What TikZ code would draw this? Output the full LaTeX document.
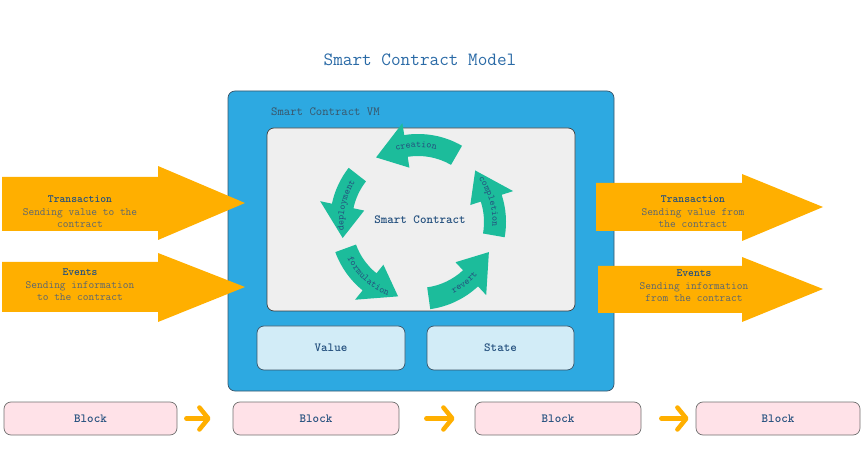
\documentclass[tikz,border=0pt]{standalone}
\usepackage{fontspec}
\usetikzlibrary{arrows.meta,decorations.text}

\definecolor{vmblue}{HTML}{2DA9E1}
\definecolor{vmline}{HTML}{3A5468}
\definecolor{innergray}{HTML}{EFEFEF}
\definecolor{valuefill}{HTML}{D2ECF7}
\definecolor{blockfill}{HTML}{FFE2E8}
\definecolor{blockline}{HTML}{707070}
\definecolor{arroworange}{HTML}{FFAF00}
\definecolor{cycteal}{HTML}{1CBC9B}
\definecolor{titleblue}{HTML}{2A6AA6}
\definecolor{labelblue}{HTML}{24507E}
\definecolor{subgray}{HTML}{5B6670}

\newcommand\cyclabelfont{\fontsize{9.7}{11}\selectfont\ttfamily}

% one curved arrow of the cycle: start angle, tip angle
\newcommand\cyclearrow[2]{%
  \pgfmathsetmacro\headbase{#2-24}
  \fill [cycteal] ([shift={(#1:88)}]cyc) arc [start angle=#1, end angle=\headbase, radius=88]
    -- ([shift={(\headbase:100)}]cyc) -- ([shift={(#2:77)}]cyc)
    -- ([shift={(\headbase:55)}]cyc) -- ([shift={(\headbase:66)}]cyc)
    arc [start angle=\headbase, end angle=#1, radius=66] -- cycle;
}
% text bent along an arc: from angle, to angle, radius, text
\newcommand\cyclelabel[4]{%
  \path [decorate, decoration={text along path, text align=center,
      text color=labelblue, text={|\cyclabelfont|#4}}]
    ([shift={(#1:#3)}]cyc) arc [start angle=#1, end angle=#2, radius=#3];
}

\begin{document}
\begin{tikzpicture}[x=1pt, y=1pt]
\tikzset{ >=latex, font=\ttfamily,
  roundbox/.style={draw, rounded corners=7pt, line width=0.7pt, inner sep=0pt},
  boldlabel/.style={text=labelblue, font=\fontsize{12.4}{14}\selectfont\ttfamily\bfseries},
  arrowtext/.style={align=center, text=subgray, font=\fontsize{11.1}{12.5}\selectfont\ttfamily},
  bigarrow/.style={fill=arroworange},
  chain/.style={draw=arroworange, line width=4.5pt, line cap=round,
    -{Straight Barb[length=9pt, width=22pt, round]}},
}
\useasboundingbox (0,0) rectangle (864,455);

\node [text=titleblue, font=\fontsize{18.7}{20}\selectfont\ttfamily] (title) at (420,395) {Smart Contract Model};

% virtual machine
\node [roundbox, draw=vmline, fill=vmblue, minimum width=386, minimum height=300] (vm) at (421,214) {};
\node [anchor=west, inner sep=0pt, text=vmline, font=\fontsize{12.4}{14}\selectfont\ttfamily] (vmlabel) at (271,343) {Smart Contract VM};
\node [roundbox, draw=black!75, fill=innergray, minimum width=308, minimum height=183] (inner) at (421,235.5) {};
\node [roundbox, draw=vmline, fill=valuefill, minimum width=148, minimum height=44, boldlabel] (value) at (331,107) {Value};
\node [roundbox, draw=vmline, fill=valuefill, minimum width=147, minimum height=44, boldlabel] (state) at (500.5,107) {State};

% life cycle
\coordinate (cyc) at (418,233);
\cyclearrow{60}{123}
\cyclearrow{142}{192}
\cyclearrow{200}{255}
\cyclearrow{278}{337}
\cyclearrow{-10}{42}
\cyclelabel{123}{60}{74.5}{creation}
\cyclelabel{192}{142}{74.5}{deployment}
\cyclelabel{200}{255}{79.5}{formulation}
\cyclelabel{278}{337}{79.5}{revert}
\cyclelabel{42}{-10}{74.5}{completion}
\node [boldlabel] (sc) at (420,235) {Smart Contract};

% input and output
\fill [bigarrow] (2,278) -- (158,278) -- (158,289) -- (245,252) -- (158,215) -- (158,224) -- (2,224) -- cycle;
\fill [bigarrow] (2,193) -- (158,193) -- (158,202) -- (245,168) -- (158,133) -- (158,143) -- (2,143) -- cycle;
\fill [bigarrow] (596,272) -- (742,272) -- (742,281) -- (823,248) -- (742,214) -- (742,224) -- (596,224) -- cycle;
\fill [bigarrow] (598,189) -- (742,189) -- (742,198) -- (823,166) -- (742,133) -- (742,142) -- (598,142) -- cycle;

\node [arrowtext] (txin) at (80,243) {\textcolor{labelblue}{\bfseries Transaction}\\Sending value to the\\contract};
\node [arrowtext] (evin) at (80,170) {\textcolor{labelblue}{\bfseries Events}\\Sending information\\to the contract};
\node [arrowtext] (txout) at (693,243) {\textcolor{labelblue}{\bfseries Transaction}\\Sending value from\\the contract};
\node [arrowtext] (evout) at (694,169) {\textcolor{labelblue}{\bfseries Events}\\Sending information\\from the contract};

% chain of blocks
\node [roundbox, draw=blockline, fill=blockfill, minimum width=173, minimum height=33, boldlabel] (b1) at (90.5,36.5) {Block};
\node [roundbox, draw=blockline, fill=blockfill, minimum width=166, minimum height=33, boldlabel] (b2) at (316,36.5) {Block};
\node [roundbox, draw=blockline, fill=blockfill, minimum width=166, minimum height=33, boldlabel] (b3) at (558,36.5) {Block};
\node [roundbox, draw=blockline, fill=blockfill, minimum width=164, minimum height=33, boldlabel] (b4) at (778,36.5) {Block};

\draw [chain, shorten <=9pt, shorten >=22pt] (b1.east) -- (b2.west);
\draw [chain, shorten <=27pt, shorten >=20pt] (b2.east) -- (b3.west);
\draw [chain, shorten <=20pt, shorten >=7pt] (b3.east) -- (b4.west);

\end{tikzpicture}
\end{document}
